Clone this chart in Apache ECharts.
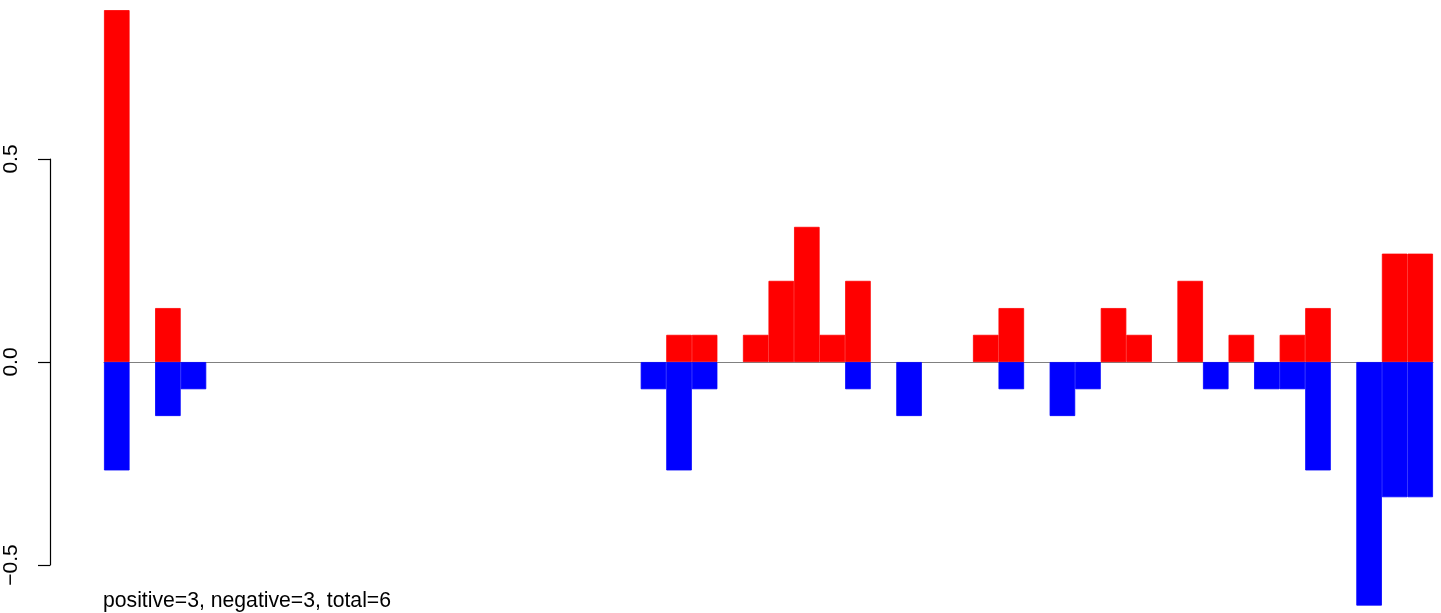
<!DOCTYPE html>
<html>
<head>
<meta charset="utf-8">
<script src="https://cdn.jsdelivr.net/npm/echarts@6/dist/echarts.min.js"></script>
<style>
  html, body { margin: 0; padding: 0; background: #ffffff; }
  #chart { width: 1441px; height: 613px; }
</style>
</head>
<body>
<div id="chart"></div>
<script>
// 52 categories (no x tick labels drawn)
var categories = [];
for (var k = 1; k <= 52; k++) categories.push(String(k));

// values (steps of ~0.067)
var positiveValues = [
  0.867, 0, 0.133, 0, 0, 0, 0, 0, 0, 0,
  0, 0, 0, 0, 0, 0, 0, 0, 0, 0,
  0, 0, 0.067, 0.067, 0, 0.067, 0.2, 0.333, 0.067, 0.2,
  0, 0, 0, 0, 0.067, 0.133, 0, 0, 0, 0.133,
  0.067, 0, 0.2, 0, 0.067, 0, 0.067, 0.133, 0, 0,
  0.267, 0.267
];
var negativeValues = [
  -0.267, 0, -0.133, -0.067, 0, 0, 0, 0, 0, 0,
  0, 0, 0, 0, 0, 0, 0, 0, 0, 0,
  0, -0.067, -0.267, -0.067, 0, 0, 0, 0, 0, -0.067,
  0, -0.133, 0, 0, 0, -0.067, 0, -0.133, -0.067, 0,
  0, 0, 0, -0.067, 0, -0.067, -0.067, -0.267, 0, -0.6,
  -0.333, -0.333
];
var yTickValues = [-0.5, 0, 0.5];
var footerText = 'positive=3, negative=3, total=6';

var FONT = "'Liberation Sans', Arial, Helvetica, sans-serif";

function noZero(arr) {
  return arr.map(function (v) { return v === 0 ? '-' : v; });
}

var chart = echarts.init(document.getElementById('chart'), null, { renderer: 'canvas' });
chart.setOption({
  backgroundColor: '#ffffff',
  animation: false,
  title: {
    text: footerText,
    left: 103,
    top: 591,
    padding: 0,
    textStyle: { fontFamily: FONT, fontSize: 21.2, fontWeight: 'normal', color: '#000000', lineHeight: 21 }
  },
  grid: [
    { left: 104, right: 8, top: 10.1, bottom: 7.4 },
    { left: 50, width: 10, top: 159, height: 406 }
  ],
  xAxis: [
    {
      gridIndex: 0, type: 'category', data: categories,
      axisLine: { show: true, onZero: true, lineStyle: { color: '#808080', width: 1.2 } },
      axisTick: { show: false }, axisLabel: { show: false }, splitLine: { show: false }
    },
    { gridIndex: 1, type: 'value', show: false, min: 0, max: 1 }
  ],
  yAxis: [
    {
      gridIndex: 0, type: 'value', min: -0.6, max: 0.867, show: false, splitLine: { show: false }
    },
    {
      gridIndex: 1, type: 'value', min: yTickValues[0], max: yTickValues[yTickValues.length - 1], interval: 0.5,
      axisLine: { show: true, lineStyle: { color: '#000000', width: 1.2 } },
      axisTick: { show: true, length: 12, lineStyle: { color: '#000000', width: 1.2 } },
      axisLabel: {
        show: true, rotate: 90, margin: 28, fontFamily: FONT, fontSize: 21, color: '#000000',
        formatter: function (v) { return (v < 0 ? '\u2212' : '') + Math.abs(v).toFixed(1); }
      },
      splitLine: { show: false }
    }
  ],
  series: [
    {
      name: 'positive', type: 'bar', xAxisIndex: 0, yAxisIndex: 0,
      data: noZero(positiveValues), barGap: '-100%', barCategoryGap: '0%',
      itemStyle: { color: '#ff0000', borderColor: '#ff0000', borderWidth: 0.8 }, z: 3
    },
    {
      name: 'negative', type: 'bar', xAxisIndex: 0, yAxisIndex: 0,
      data: noZero(negativeValues), barGap: '-100%', barCategoryGap: '0%',
      itemStyle: { color: '#0000ff', borderColor: '#0000ff', borderWidth: 0.8 }, z: 3
    }
  ]
});
</script>
</body>
</html>
